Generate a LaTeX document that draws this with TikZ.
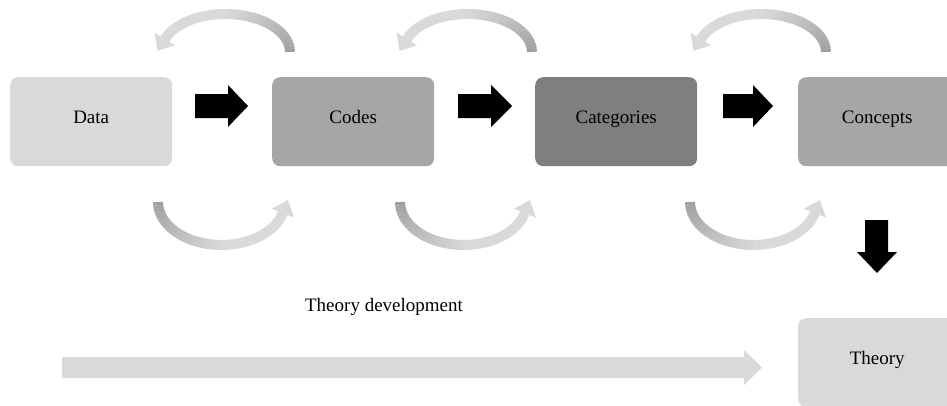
\documentclass[tikz,border=0pt]{standalone}
\usepackage{fontspec}
\setmainfont{Liberation Serif}
\definecolor{lightg}{HTML}{D9D9D9}
\definecolor{midg}{HTML}{A6A6A6}
\definecolor{darkg}{HTML}{7F7F7F}
\definecolor{arcdark}{HTML}{A0A0A0}
\definecolor{arclight}{HTML}{D9D9D9}
\begin{document}
\begin{tikzpicture}[x=1pt,y=-1pt,
  box/.style={rounded corners=8pt, minimum width=162pt, minimum height=89pt,
    inner sep=0pt, anchor=north west, font=\fontsize{19}{22}\selectfont},
  blockarrow/.style={fill=black},
  devarrow/.style={fill=lightg},
  lbl/.style={font=\fontsize{19}{22}\selectfont, inner sep=0pt}
]
\useasboundingbox (0,0) rectangle (947,405);
\clip (0,0) rectangle (947,405);

% boxes
\node[box, fill=lightg] (data) at (10,77) {\raisebox{9pt}{Data}};
\node[box, fill=midg] (codes) at (272,77) {\raisebox{9pt}{Codes}};
\node[box, fill=darkg] (cats) at (535,77) {\raisebox{9pt}{Categories}};
\node[box, fill=midg] (concepts) at (798,77) {\raisebox{9pt}{\hspace*{-4pt}Concepts}};
\node[box, fill=lightg, minimum height=89pt] (theory) at (798,318) {\raisebox{9pt}{\hspace*{-4pt}Theory}};

% black block arrows
\fill[blockarrow] (195,94) -- (228,94) -- (228,85) -- (248,106) -- (228,127) -- (228,118) -- (195,118) -- cycle;
\fill[blockarrow] (458,94) -- (491,94) -- (491,85) -- (512,106) -- (491,127) -- (491,118) -- (458,118) -- cycle;
\fill[blockarrow] (723,94) -- (753,94) -- (753,85) -- (773,106) -- (753,127) -- (753,118) -- (723,118) -- cycle;
\fill[blockarrow] (865,220) -- (888,220) -- (888,252) -- (897,252) -- (877,273) -- (857,252) -- (865,252) -- cycle;

% theory development arrow
\fill[devarrow] (62,357) -- (744,357) -- (744,350) -- (762,367.5) -- (744,385) -- (744,378) -- (62,378) -- cycle;
\node[lbl] (devlabel) at (384,307) {Theory development};

% top curved arrows (right leg dark, going over to the left)
\foreach \cx in {225.5,467.5,761.5}{
  \foreach \i in {0,...,39}{
    \pgfmathsetmacro\a{\i*160/40}
    \pgfmathsetmacro\b{(\i+1)*160/40+0.3}
    \pgfmathsetmacro\sx{\cx+64.5*cos(\a)}
    \pgfmathsetmacro\sy{52-38*sin(\a)}
    \pgfmathsetmacro\p{max(0,100-\i*100/22)}
    \draw[line width=10pt, color=arcdark!\p!arclight]
      (\sx,\sy) arc[start angle=\a, end angle=\b, x radius=64.5pt, y radius=38pt];
  }
  \pgfmathsetmacro\ex{\cx+64.5*cos(160)}
  \pgfmathsetmacro\ey{52-38*sin(160)}
  \pgfmathsetmacro\dx{-64.5*sin(160)}
  \pgfmathsetmacro\dy{38*cos(160)}
  \pgfmathsetmacro\dn{sqrt(\dx*\dx+\dy*\dy)}
  \pgfmathsetmacro\ux{\dx/\dn}
  \pgfmathsetmacro\uy{-\dy/\dn}
  \fill[arclight] (\ex+12*\uy,\ey-12*\ux) -- (\ex+14*\ux,\ey+14*\uy) -- (\ex-12*\uy,\ey+12*\ux) -- cycle;
}

% bottom curved arrows (left leg dark, going under to the right)
\foreach \cx in {221.5,463.5,753.5}{
  \foreach \i in {0,...,39}{
    \pgfmathsetmacro\a{180+\i*165/40}
    \pgfmathsetmacro\b{180+(\i+1)*165/40+0.3}
    \pgfmathsetmacro\sx{\cx+63.5*cos(\a)}
    \pgfmathsetmacro\sy{202-43*sin(\a)}
    \pgfmathsetmacro\p{max(0,100-\i*100/22)}
    \draw[line width=10pt, color=arcdark!\p!arclight]
      (\sx,\sy) arc[start angle=\a, end angle=\b, x radius=63.5pt, y radius=43pt];
  }
  \pgfmathsetmacro\ex{\cx+63.5*cos(345)}
  \pgfmathsetmacro\ey{202-43*sin(345)}
  \pgfmathsetmacro\dx{-63.5*sin(345)}
  \pgfmathsetmacro\dy{43*cos(345)}
  \pgfmathsetmacro\dn{sqrt(\dx*\dx+\dy*\dy)}
  \pgfmathsetmacro\ux{\dx/\dn}
  \pgfmathsetmacro\uy{-\dy/\dn}
  \fill[arclight] (\ex+12*\uy,\ey-12*\ux) -- (\ex+14*\ux,\ey+14*\uy) -- (\ex-12*\uy,\ey+12*\ux) -- cycle;
}
\end{tikzpicture}
\end{document}
